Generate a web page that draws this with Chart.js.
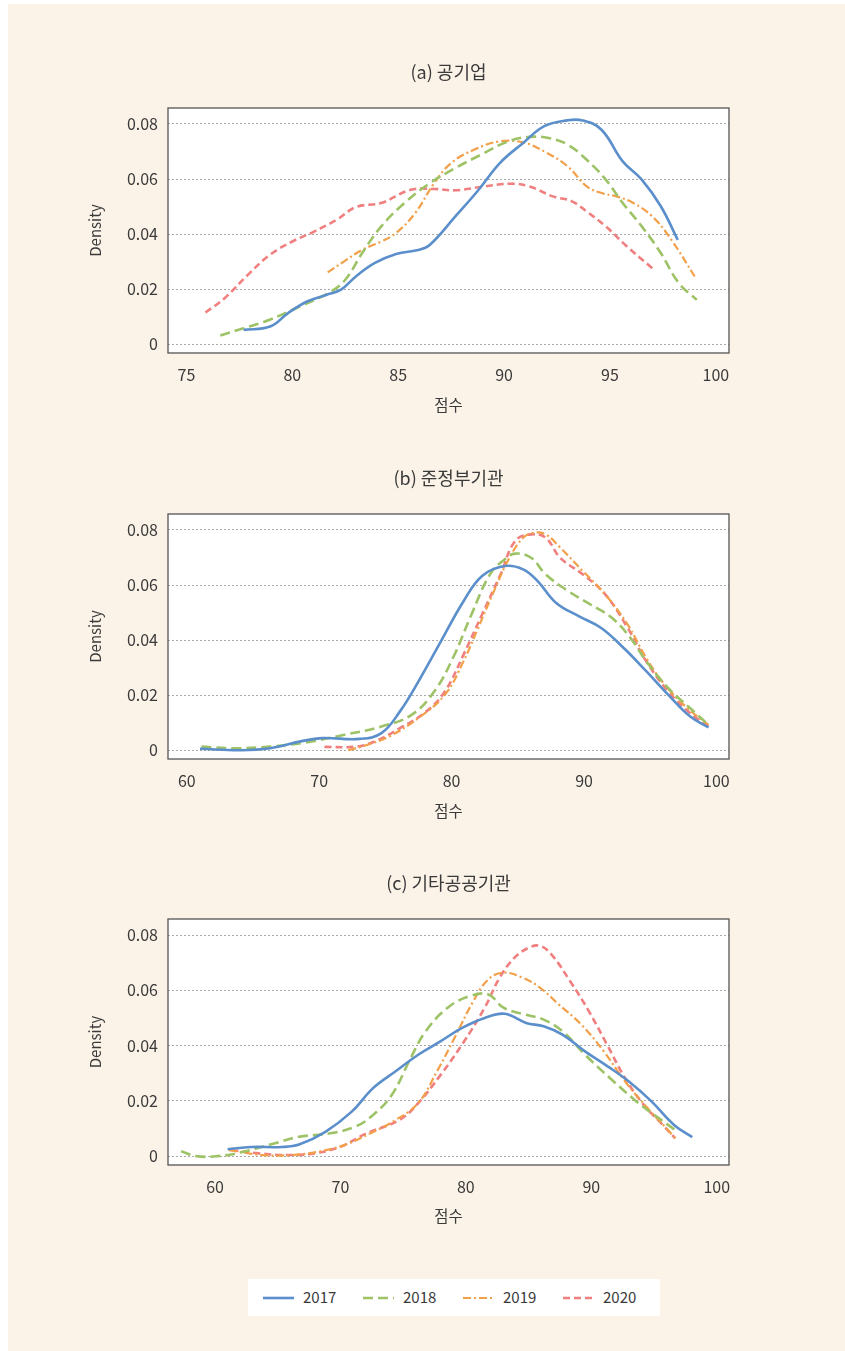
<!DOCTYPE html>
<html>
<head>
<meta charset="utf-8">
<script src="https://cdn.jsdelivr.net/npm/chart.js@4.4.1/dist/chart.umd.min.js"></script>
<style>
  html, body { margin: 0; padding: 0; background: #ffffff; }
  body { width: 845px; height: 1351px; position: relative; overflow: hidden; font-family: 'Noto Sans CJK KR', 'Noto Sans', sans-serif; }
  #bg { position: absolute; left: 8px; top: 4px; right: 0; bottom: 0; background: #FBF2E8; }
  canvas.panel { position: absolute; left: 0; }
  #legend { position: absolute; left: 248px; top: 1279px; width: 412px; height: 37px; background: #ffffff; }
  .li { position: absolute; top: 0; height: 37px; }
  .li svg { position: absolute; left: 0; top: 17px; }
  .li span { position: absolute; left: 40px; top: 8px; font-size: 15px; line-height: 20px; color: #3a3a3a; }
</style>
</head>
<body>
<div id="bg"></div>
<canvas class="panel" id="pa" width="845" height="430" style="top:0px"></canvas>
<canvas class="panel" id="pb" width="845" height="430" style="top:406px"></canvas>
<canvas class="panel" id="pc" width="845" height="430" style="top:811px"></canvas>
<div id="legend"></div>
<script>
// ---------- series / labels ----------
const years = ['2017', '2018', '2019', '2020'];
const panelTitles = ['(a) 공기업', '(b) 준정부기관', '(c) 기타공공기관'];
const xAxisTitle = '점수';
const yAxisTitle = 'Density';
const yTicks = [0, 0.02, 0.04, 0.06, 0.08];
const yTickLabels = ['0', '0.02', '0.04', '0.06', '0.08'];
const xTicksA = [75, 80, 85, 90, 95, 100];
const xTicksB = [60, 70, 80, 90, 100];
const xTicksC = [60, 70, 80, 90, 100];

// (a) 공기업
const aX2017 = [77.7, 78.95, 79.8, 80.7, 81.6, 82.3, 83.0, 83.9, 84.9, 86.0, 86.5, 87.7, 88.8, 89.8, 90.9, 91.9, 92.98, 93.7, 94.6, 95.6, 96.5, 97.4, 98.2];
const aY2017 = [0.0052, 0.0064, 0.0113, 0.0155, 0.0179, 0.0198, 0.0246, 0.0295, 0.0328, 0.0343, 0.0361, 0.0464, 0.0561, 0.0658, 0.0731, 0.0792, 0.0813, 0.0813, 0.0779, 0.0664, 0.0598, 0.0501, 0.0379];
const aX2018 = [76.6, 77.7, 78.9, 80.35, 81.75, 82.5, 83.3, 84.2, 85.3, 86.5, 87.7, 88.9, 90.2, 91.2, 92.1, 93.0, 93.9, 94.8, 95.6, 96.5, 97.4, 98.25, 99.1];
const aY2018 = [0.0032, 0.0058, 0.0088, 0.0137, 0.0188, 0.0234, 0.0331, 0.0428, 0.0513, 0.0585, 0.0640, 0.0688, 0.0737, 0.0753, 0.0749, 0.0725, 0.0670, 0.0598, 0.0513, 0.0428, 0.0331, 0.0222, 0.0161];
const aX2019 = [81.67, 82.45, 83.3, 84.2, 84.9, 85.8, 86.7, 87.5, 88.6, 89.8, 90.9, 91.9, 93.0, 93.9, 94.6, 95.3, 96.1, 97.0, 97.9, 99.0];
const aY2019 = [0.0261, 0.0301, 0.0343, 0.0373, 0.0404, 0.0476, 0.0585, 0.0658, 0.0707, 0.0737, 0.0733, 0.0700, 0.0646, 0.0573, 0.0549, 0.0537, 0.0513, 0.0464, 0.0379, 0.0246];
const aX2020 = [75.9, 76.8, 77.9, 78.95, 80.0, 81.05, 82.1, 83.0, 84.2, 85.6, 86.7, 87.7, 88.9, 90.35, 91.2, 92.3, 93.2, 93.9, 94.8, 95.8, 97.0];
const aY2020 = [0.0115, 0.0167, 0.0252, 0.0325, 0.0373, 0.0410, 0.0452, 0.0498, 0.0513, 0.0561, 0.0564, 0.0559, 0.0571, 0.0583, 0.0573, 0.0537, 0.0519, 0.0482, 0.0428, 0.0355, 0.0276];

// (b) 준정부기관
const bX2017 = [61.0, 64.1, 66.3, 68.6, 70.2, 73.05, 74.7, 76.1, 77.5, 79.2, 80.9, 82.3, 84.0, 85.4, 86.5, 87.9, 89.6, 91.3, 93.0, 94.7, 96.35, 98.0, 99.4];
const bY2017 = [0.0005, 0.0000, 0.0007, 0.0032, 0.0044, 0.0041, 0.0062, 0.0141, 0.0250, 0.0396, 0.0541, 0.0633, 0.0669, 0.0657, 0.0614, 0.0535, 0.0487, 0.0444, 0.0371, 0.0287, 0.0202, 0.0123, 0.0083];
const bX2018 = [61.1, 63.5, 66.3, 69.1, 71.9, 74.7, 77.0, 78.7, 80.1, 81.5, 82.9, 84.0, 84.8, 86.0, 87.1, 88.8, 90.5, 92.1, 93.5, 94.7, 96.35, 98.0, 99.4];
const bY2018 = [0.0013, 0.0007, 0.0013, 0.0029, 0.0056, 0.0086, 0.0129, 0.0214, 0.0335, 0.0493, 0.0639, 0.0693, 0.0714, 0.0699, 0.0639, 0.0578, 0.0529, 0.0481, 0.0408, 0.0323, 0.0226, 0.0153, 0.0092];
const bX2019 = [72.2, 73.6, 75.3, 77.5, 79.5, 80.9, 82.0, 83.2, 84.3, 85.4, 86.2, 87.1, 88.2, 89.9, 91.6, 93.3, 94.7, 96.1, 97.8, 99.4];
const bY2019 = [0.0000, 0.0019, 0.0050, 0.0117, 0.0202, 0.0323, 0.0444, 0.0578, 0.0693, 0.0772, 0.0790, 0.0784, 0.0736, 0.0651, 0.0566, 0.0456, 0.0335, 0.0238, 0.0153, 0.0092];
const bX2020 = [70.4, 72.8, 74.2, 76.1, 78.1, 79.5, 80.9, 82.3, 83.7, 84.8, 86.0, 87.1, 88.2, 89.9, 91.6, 93.3, 94.7, 96.35, 98.0, 99.4];
const bY2020 = [0.0012, 0.0013, 0.0032, 0.0080, 0.0141, 0.0214, 0.0347, 0.0493, 0.0639, 0.0760, 0.0784, 0.0772, 0.0699, 0.0639, 0.0566, 0.0444, 0.0323, 0.0214, 0.0135, 0.0086];

// (c) 기타공공기관
const cX2017 = [61.0, 62.9, 65.3, 66.7, 68.8, 70.9, 72.6, 74.4, 76.2, 78.0, 79.7, 81.5, 83.1, 84.8, 86.2, 87.7, 89.5, 91.3, 93.0, 94.8, 96.6, 98.05];
const cY2017 = [0.0025, 0.0033, 0.0033, 0.0042, 0.0088, 0.0161, 0.0246, 0.0307, 0.0367, 0.0416, 0.0464, 0.0500, 0.0515, 0.0482, 0.0470, 0.0440, 0.0379, 0.0325, 0.0270, 0.0198, 0.0113, 0.0069];
const cX2018 = [57.3, 58.5, 60.2, 62.0, 64.4, 66.7, 69.1, 71.2, 72.6, 74.1, 75.6, 76.8, 78.55, 80.3, 81.8, 83.0, 84.5, 86.2, 87.7, 89.5, 91.5, 93.6, 95.4, 96.9];
const cY2018 = [0.0018, 0.0000, 0.0000, 0.0013, 0.0042, 0.0070, 0.0082, 0.0107, 0.0149, 0.0222, 0.0355, 0.0452, 0.0537, 0.0579, 0.0585, 0.0537, 0.0515, 0.0494, 0.0452, 0.0367, 0.0282, 0.0198, 0.0137, 0.0088];
const cX2019 = [61.1, 63.8, 66.1, 68.2, 70.3, 72.35, 74.4, 76.2, 77.7, 79.1, 80.6, 81.8, 83.0, 84.5, 85.9, 87.4, 89.2, 91.0, 92.7, 94.5, 96.0, 96.7];
const cY2019 = [0.0022, 0.0004, 0.0004, 0.0016, 0.0040, 0.0082, 0.0131, 0.0192, 0.0307, 0.0428, 0.0561, 0.0640, 0.0664, 0.0646, 0.0610, 0.0549, 0.0476, 0.0379, 0.0270, 0.0173, 0.0100, 0.0064];
const cX2020 = [61.3, 63.5, 65.85, 67.9, 70.0, 72.05, 74.7, 76.2, 78.0, 79.7, 81.5, 82.7, 83.9, 85.05, 85.9, 86.8, 88.3, 89.8, 91.25, 92.7, 94.2, 95.7, 96.7];
const cY2020 = [0.0022, 0.0010, 0.0004, 0.0010, 0.0034, 0.0082, 0.0131, 0.0192, 0.0295, 0.0404, 0.0537, 0.0646, 0.0719, 0.0755, 0.0761, 0.0731, 0.0634, 0.0525, 0.0404, 0.0282, 0.0185, 0.0113, 0.0064];

// ---------- styles ----------
const colors = ['#5B8FCB', '#9DC366', '#F2A04A', '#F07F7F'];
const widths = [2.6, 2.6, 2.2, 2.6];
const dashes = [[], [10, 5], [8, 3, 2, 3], [7, 4]];
const textColor = '#3a3a3a';

Chart.defaults.font.family = "'Noto Sans CJK KR', 'Noto Sans', sans-serif";
Chart.defaults.color = textColor;

const boxPlugin = {
  id: 'plotBox',
  beforeDraw(chart) {
    const a = chart.chartArea, ctx = chart.ctx;
    ctx.save();
    ctx.fillStyle = '#ffffff';
    ctx.fillRect(a.left, a.top, a.right - a.left, a.bottom - a.top);
    ctx.restore();
  },
  afterDraw(chart) {
    const a = chart.chartArea, ctx = chart.ctx;
    ctx.save();
    ctx.strokeStyle = '#555555';
    ctx.lineWidth = 1.3;
    ctx.setLineDash([]);
    ctx.strokeRect(a.left, a.top, a.right - a.left, a.bottom - a.top);
    ctx.restore();
  }
};

function pts(xs, ys) { return xs.map((v, i) => ({ x: v, y: ys[i] })); }

function makePanel(id, title, xMin, xMax, xTicks, seriesX, seriesY, chartH) {
  const xAxisH = 430 - 108 - chartH;
  return new Chart(document.getElementById(id), {
    type: 'line',
    data: {
      datasets: years.map((y, i) => ({
        label: y,
        data: pts(seriesX[i], seriesY[i]),
        borderColor: colors[i],
        backgroundColor: colors[i],
        borderWidth: widths[i],
        borderDash: dashes[i],
        borderCapStyle: 'butt',
        pointRadius: 0,
        pointHoverRadius: 0,
        tension: 0.4,
        fill: false
      }))
    },
    options: {
      responsive: false,
      animation: false,
      devicePixelRatio: 1,
      layout: { padding: { left: 0, right: 116, top: 0, bottom: 0 } },
      plugins: {
        legend: { display: false },
        tooltip: { enabled: false },
        title: {
          display: true, text: title, fullSize: false, color: textColor,
          font: { size: 18, weight: 'normal' },
          padding: { top: 61.2, bottom: 25.2 }
        }
      },
      scales: {
        x: {
          type: 'linear', min: xMin, max: xMax,
          afterBuildTicks: s => { s.ticks = xTicks.map(v => ({ value: v })); },
          afterFit: s => { s.height = xAxisH; },
          grid: { display: false, drawTicks: false },
          border: { display: false },
          ticks: { padding: 12, color: textColor, font: { size: 16 }, maxRotation: 0, autoSkip: false, callback: v => String(v) },
          title: { display: true, text: xAxisTitle, color: textColor, font: { size: 15.5 }, padding: { top: 0, bottom: 16 } }
        },
        y: {
          type: 'linear', min: -0.0032, max: 0.0858,
          afterBuildTicks: s => { s.ticks = yTicks.map(v => ({ value: v })); },
          afterFit: s => { s.width = 168; },
          grid: { color: '#a8a8a8', lineWidth: 1, drawTicks: false },
          border: { display: false, dash: [2, 2] },
          ticks: { padding: 10, color: textColor, font: { size: 16 }, callback: (v, i) => yTickLabels[yTicks.indexOf(v)] ?? '' },
          title: { display: true, text: yAxisTitle, color: textColor, font: { size: 15 }, padding: { top: 86.5, bottom: 0 } }
        }
      }
    },
    plugins: [boxPlugin]
  });
}

makePanel('pa', panelTitles[0], 74.13, 100.62, xTicksA,
  [aX2017, aX2018, aX2019, aX2020], [aY2017, aY2018, aY2019, aY2020], 245);
makePanel('pb', panelTitles[1], 58.58, 100.95, xTicksB,
  [bX2017, bX2018, bX2019, bX2020], [bY2017, bY2018, bY2019, bY2020], 245);
makePanel('pc', panelTitles[2], 56.25, 100.98, xTicksC,
  [cX2017, cX2018, cX2019, cX2020], [cY2017, cY2018, cY2019, cY2020], 246);

// ---------- legend ----------
const legend = document.getElementById('legend');
years.forEach((y, i) => {
  const item = document.createElement('div');
  item.className = 'li';
  item.style.left = (15 + i * 100) + 'px';
  const svgNS = 'http://www.w3.org/2000/svg';
  const svg = document.createElementNS(svgNS, 'svg');
  svg.setAttribute('width', '31');
  svg.setAttribute('height', '4');
  const line = document.createElementNS(svgNS, 'line');
  line.setAttribute('x1', '0'); line.setAttribute('y1', '2');
  line.setAttribute('x2', '31'); line.setAttribute('y2', '2');
  line.setAttribute('stroke', colors[i]);
  line.setAttribute('stroke-width', String(widths[i]));
  if (dashes[i].length) line.setAttribute('stroke-dasharray', dashes[i].join(' '));
  svg.appendChild(line);
  const span = document.createElement('span');
  span.textContent = y;
  item.appendChild(svg);
  item.appendChild(span);
  legend.appendChild(item);
});
</script>
</body>
</html>
